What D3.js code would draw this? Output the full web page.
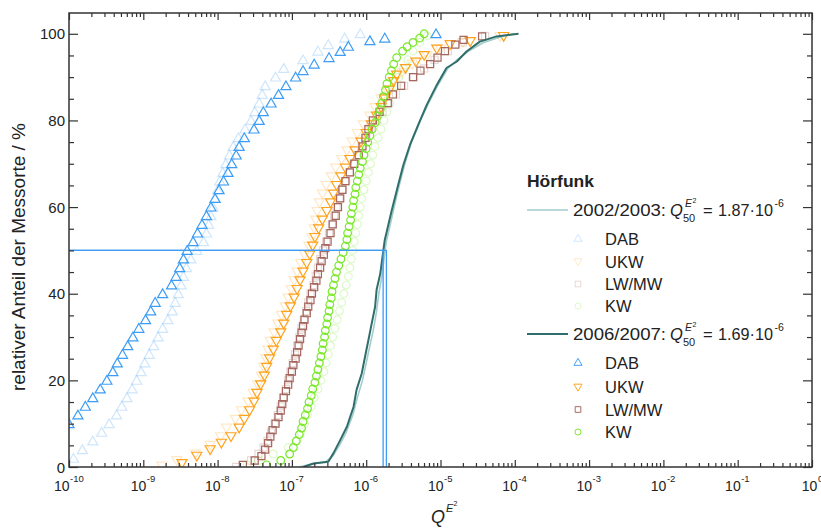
<!DOCTYPE html>
<html><head><meta charset="utf-8">
<script src="https://cdn.jsdelivr.net/npm/d3@7"></script>
<style>
body{margin:0;background:#fff;}
text{font-family:"Liberation Sans",Arial,Helvetica,sans-serif;fill:#222;}
</style>
</head><body>
<svg id="chart" width="821" height="530"></svg>
<script>
// ---------- data (each point: [percent of sites, log10 Q]) ----------
const categories = ["DAB", "UKW", "LW/MW", "KW"];
const periods = ["2002/2003", "2006/2007"];
const q50 = [1.87e-6, 1.69e-6];
const q50Labels = ["1.87", "1.69"];
const yTickValues = [0, 20, 40, 60, 80, 100];
const xTickExponents = [-10, -9, -8, -7, -6, -5, -4, -3, -2, -1, 0];

const dab0203 = [[2,-9.94],[4,-9.82],[6,-9.68],[8,-9.56],[10,-9.46],[12,-9.36],[14,-9.29],[16,-9.22],[18,-9.15],[20,-9.09],[22,-9.03],[24,-8.98],[26,-8.92],[28,-8.86],[30,-8.80],[32,-8.74],[34,-8.67],[36,-8.61],[38,-8.57],[40,-8.53],[42,-8.49],[44,-8.46],[46,-8.42],[48,-8.36],[50,-8.28],[52,-8.19],[54,-8.15],[56,-8.12],[58,-8.09],[60,-8.06],[62,-8.03],[64,-8.00],[66,-7.97],[68,-7.93],[70,-7.89],[72,-7.84],[74,-7.79],[76,-7.72],[78,-7.63],[80,-7.55],[82,-7.50],[84,-7.44],[86,-7.40],[88,-7.36],[90,-7.22],[92,-7.11],[94,-6.85],[96,-6.65],[97.5,-6.51],[99,-6.29],[100,-6.08]];
const ukw0203 = [[0.2,-8.75],[1.5,-8.55],[3,-8.30],[5,-8.10],[7,-7.96],[9,-7.88],[11,-7.76],[13,-7.68],[15,-7.59],[17,-7.52],[19,-7.46],[21,-7.41],[23,-7.38],[25,-7.35],[27,-7.32],[29,-7.29],[31,-7.24],[33,-7.19],[35,-7.14],[37,-7.09],[39,-7.05],[41,-7.01],[43,-6.97],[45,-6.93],[47,-6.88],[49,-6.83],[51,-6.77],[53,-6.73],[55,-6.70],[57,-6.68],[59,-6.66],[61,-6.63],[63,-6.59],[65,-6.54],[67,-6.47],[69,-6.41],[71,-6.33],[73,-6.26],[75,-6.19],[77,-6.12],[79,-6.04],[81,-5.95],[83,-5.88],[85,-5.80],[87,-5.72],[89,-5.64],[91,-5.52],[93,-5.38],[95,-5.18],[96.5,-5.00],[98,-4.70],[99.4,-4.20]];
const lwmw0203 = [[0,-7.75],[1.5,-7.55],[3,-7.45],[4.5,-7.38],[6,-7.33],[8,-7.28],[10,-7.23],[12,-7.19],[14,-7.15],[16,-7.12],[18,-7.08],[20,-7.05],[22,-7.02],[24,-6.99],[26,-6.96],[28,-6.93],[30,-6.90],[32,-6.87],[34,-6.84],[36,-6.81],[38,-6.78],[40,-6.75],[42,-6.71],[44,-6.68],[46,-6.65],[48,-6.62],[50,-6.58],[52,-6.54],[54,-6.50],[56,-6.46],[58,-6.43],[60,-6.40],[62,-6.36],[64,-6.32],[66,-6.27],[68,-6.22],[70,-6.17],[72,-6.12],[74,-6.06],[76,-6.00],[78,-5.94],[80,-5.86],[82,-5.78],[84,-5.70],[86,-5.60],[88,-5.49],[90,-5.36],[92,-5.22],[94,-5.08],[96,-4.90],[98,-4.70],[99.5,-4.40]];
const kw0203 = [[0.5,-7.60],[1.5,-7.45],[3,-7.25],[4.5,-7.05],[6,-6.95],[8,-6.88],[10,-6.83],[12,-6.79],[14,-6.74],[16,-6.70],[18,-6.65],[20,-6.61],[22,-6.57],[24,-6.54],[26,-6.51],[28,-6.48],[30,-6.45],[32,-6.42],[34,-6.39],[36,-6.36],[38,-6.33],[40,-6.30],[42,-6.27],[44,-6.24],[46,-6.22],[48,-6.20],[50,-6.18],[52,-6.16],[54,-6.14],[56,-6.12],[58,-6.10],[60,-6.08],[62,-6.06],[64,-6.03],[66,-6.00],[68,-5.97],[70,-5.94],[72,-5.91],[74,-5.88],[76,-5.84],[78,-5.80],[80,-5.76],[82,-5.72],[84,-5.68],[86,-5.64],[88,-5.60],[90,-5.56],[92,-5.50],[94,-5.44],[96,-5.37],[98,-5.28],[99.5,-5.18]];

const dab0607 = [[10,-10.0],[12,-9.88],[14,-9.78],[16,-9.68],[18,-9.58],[20,-9.49],[22,-9.41],[24,-9.35],[26,-9.28],[28,-9.21],[30,-9.14],[32,-9.06],[34,-8.97],[36,-8.90],[38,-8.84],[40,-8.74],[42,-8.62],[44,-8.56],[46,-8.51],[48,-8.46],[50,-8.41],[52,-8.33],[54,-8.27],[56,-8.21],[58,-8.15],[60,-8.09],[62,-8.035],[64,-7.98],[66,-7.92],[68,-7.86],[70,-7.81],[72,-7.75],[74,-7.71],[76,-7.64],[78,-7.51],[80,-7.44],[82,-7.385],[84,-7.28],[86,-7.18],[88,-7.08],[90,-6.95],[91.5,-6.85],[93,-6.70],[94.5,-6.50],[95.9,-6.35],[97.1,-6.24],[98.4,-5.95],[99,-5.75],[100,-5.06]];
const ukw0607 = [[0.8,-8.48],[2.5,-8.28],[4,-8.10],[5.5,-7.95],[7,-7.82],[9,-7.71],[11,-7.64],[13,-7.57],[15,-7.51],[17,-7.47],[19,-7.42],[21,-7.37],[23,-7.34],[25,-7.30],[27,-7.25],[29,-7.21],[31,-7.15],[33,-7.11],[35,-7.07],[37,-7.02],[39,-6.97],[41,-6.93],[43,-6.89],[45,-6.85],[47,-6.80],[49,-6.76],[51,-6.72],[53,-6.69],[55,-6.64],[57,-6.59],[59,-6.53],[61,-6.48],[63,-6.44],[65,-6.40],[67,-6.34],[69,-6.28],[71,-6.22],[73,-6.15],[75,-6.07],[77,-6.00],[79,-5.93],[81,-5.86],[83,-5.80],[85,-5.75],[87,-5.69],[89,-5.63],[90.5,-5.59],[92,-5.47],[93.5,-5.33],[95,-5.22],[96.5,-5.05],[97.5,-4.87],[98.2,-4.60],[99.4,-4.15]];
const lwmw0607 = [[0.5,-7.66],[1.5,-7.50],[2.5,-7.41],[4,-7.36],[5.5,-7.32],[7,-7.29],[8.5,-7.26],[10,-7.22],[11.5,-7.18],[13,-7.15],[14.5,-7.13],[16,-7.11],[17.5,-7.08],[19,-7.05],[20.5,-7.03],[22,-7.00],[23.5,-6.98],[25,-6.95],[26.5,-6.93],[28,-6.91],[29.5,-6.89],[31,-6.87],[32.5,-6.85],[34,-6.83],[35.5,-6.80],[37,-6.78],[38.5,-6.75],[40,-6.73],[41.5,-6.70],[43,-6.67],[44.5,-6.65],[46,-6.62],[47.5,-6.60],[49,-6.57],[50.5,-6.55],[52,-6.52],[54,-6.48],[56,-6.45],[58,-6.41],[60,-6.38],[62,-6.35],[64,-6.32],[66,-6.28],[68,-6.22],[70,-6.16],[72,-6.10],[74,-6.05],[76,-6.01],[78,-5.97],[80,-5.91],[82,-5.82],[84,-5.71],[86,-5.64],[88,-5.53],[90,-5.37],[91.5,-5.27],[93,-5.14],[94.5,-5.04],[96,-4.94],[97.5,-4.80],[98.6,-4.69],[99.4,-4.44]];
const kw0607 = [[0.5,-7.34],[1.5,-7.15],[3,-7.03],[4.5,-6.98],[6,-6.94],[7.5,-6.90],[9,-6.87],[10.5,-6.85],[12,-6.82],[13.5,-6.79],[15,-6.77],[16.5,-6.74],[18,-6.72],[19.5,-6.69],[21,-6.67],[22.5,-6.65],[24,-6.63],[25.5,-6.61],[27,-6.59],[28.5,-6.58],[30,-6.56],[31.5,-6.55],[33,-6.53],[34.5,-6.52],[36,-6.50],[37.5,-6.49],[39,-6.47],[40.5,-6.46],[42,-6.44],[43.5,-6.42],[45,-6.40],[46.5,-6.37],[48,-6.34],[49.5,-6.31],[51,-6.28],[52.5,-6.26],[54,-6.25],[55.5,-6.23],[57,-6.21],[58.5,-6.20],[60,-6.18],[61.5,-6.17],[63,-6.15],[64.5,-6.14],[66,-6.12],[67.5,-6.10],[69,-6.08],[70.5,-6.05],[72,-6.03],[73.5,-6.00],[75,-5.98],[76.5,-5.95],[78,-5.92],[79.5,-5.88],[81,-5.85],[82.5,-5.81],[84,-5.79],[85.5,-5.77],[87,-5.74],[88.5,-5.72],[90,-5.69],[91.5,-5.66],[93,-5.63],[94.5,-5.59],[96,-5.51],[97,-5.45],[98,-5.37],[99,-5.28],[100,-5.22]];

const total0203 = [[0,-6.90],[0.6,-6.75],[1.2,-6.55],[2.5,-6.45],[5,-6.36],[8,-6.27],[12,-6.18],[16,-6.12],[20,-6.05],[24,-6.00],[28,-5.95],[32,-5.90],[36,-5.86],[40,-5.83],[44,-5.79],[48,-5.76],[52,-5.73],[58,-5.65],[64,-5.57],[70,-5.48],[75,-5.39],[80,-5.27],[84,-5.16],[88,-5.04],[92,-4.90],[94,-4.78],[96,-4.62],[98,-4.42],[99.5,-4.15],[100,-4.00]];
const total0607 = [[0,-6.845],[0.8,-6.71],[1.2,-6.51],[3.2,-6.44],[6.2,-6.35],[9.3,-6.26],[13.9,-6.17],[17.8,-6.13],[21.6,-6.06],[25.5,-6.015],[29.3,-5.97],[33.2,-5.925],[37,-5.88],[40.9,-5.86],[44.7,-5.81],[48.6,-5.78],[52.4,-5.75],[59,-5.66],[65.1,-5.57],[69.7,-5.50],[74.4,-5.41],[79,-5.30],[83.6,-5.185],[88.2,-5.05],[92.1,-4.92],[93.6,-4.78],[95.9,-4.65],[98.2,-4.47],[99.4,-4.245],[100,-3.95]];

const markerSeries = [[dab0203, ukw0203, lwmw0203, kw0203], [dab0607, ukw0607, lwmw0607, kw0607]];
const totalSeries = [total0203, total0607];

// ---------- styles ----------
const catColors = ["#3d9df5", "#ffa21c", "#a5665e", "#7ae82a"];
const periodOpacity = [0.25, 1];
const lineColors = ["#a3cccc", "#2f6e6b"];
const lineWidths = [1.6, 2];
const medianColor = "#3d9df5";

const svg = d3.select("#chart");
const L = 69, R = 812, T = 13, B = 467;

const x = d3.scaleLog().domain([1e-10, 1]).range([L, R]);
const y = d3.scaleLinear().domain([0, 104.8]).range([B, T]);

// symbol generators
const symTri = d3.symbol().type(d3.symbolTriangle).size(44)();
const symSq = d3.symbol().type(d3.symbolSquare).size(50)();
const symCirc = d3.symbol().type(d3.symbolCircle).size(46)();
const symbolFor = [
  {d: symTri, rot: 0, dy: 1},
  {d: symTri, rot: 180, dy: -1},
  {d: symSq, rot: 0, dy: 0},
  {d: symCirc, rot: 0, dy: 0}
];

svg.append("defs").append("clipPath").attr("id", "plotclip")
  .append("rect").attr("x", L).attr("y", T).attr("width", R - L).attr("height", B - T);

const plot = svg.append("g").attr("clip-path", "url(#plotclip)");

// markers: 2002/2003 faded first, then 2006/2007
markerSeries.forEach((group, pi) => {
  group.forEach((data, ci) => {
    const s = symbolFor[ci];
    plot.append("g")
      .attr("stroke", catColors[ci])
      .attr("stroke-opacity", periodOpacity[pi])
      .attr("stroke-width", 1.2)
      .attr("fill", "none")
      .selectAll("path").data(data).join("path")
      .attr("d", s.d)
      .attr("transform", d => `translate(${x(Math.pow(10, d[1]))},${y(d[0]) + s.dy}) rotate(${s.rot})`);
  });
});

// total lines
const line = d3.line().x(d => x(Math.pow(10, d[1]))).y(d => y(d[0]));
totalSeries.forEach((data, pi) => {
  plot.append("path").datum(data)
    .attr("d", line)
    .attr("fill", "none")
    .attr("stroke", lineColors[pi])
    .attr("stroke-width", lineWidths[pi])
    .attr("stroke-linejoin", "round");
});

// median guide lines
q50.forEach(q => {
  plot.append("path")
    .attr("d", `M${x(1e-10)},${y(50)}H${x(q)}V${y(0)}`)
    .attr("fill", "none")
    .attr("stroke", medianColor)
    .attr("stroke-width", 1.3);
});

// ---------- axes ----------
const majorX = xTickExponents.map(e => Math.pow(10, e));
const minorX = [];
xTickExponents.slice(0, -1).forEach(e => { for (let m = 2; m <= 9; m++) minorX.push(m * Math.pow(10, e)); });
const majorY = yTickValues;
const minorY = d3.range(5, 100, 5).filter(v => v % 20 !== 0);

function styleAxis(g) {
  g.select(".domain").remove();
  g.selectAll("line").attr("stroke", "#333").attr("stroke-width", 1.2);
  g.selectAll("text").remove();
}
svg.append("g").attr("transform", `translate(0,${B})`).call(d3.axisBottom(x).tickValues(majorX).tickSize(-7).tickFormat("")).call(styleAxis);
svg.append("g").attr("transform", `translate(0,${B})`).call(d3.axisBottom(x).tickValues(minorX).tickSize(-4).tickFormat("")).call(styleAxis);
svg.append("g").attr("transform", `translate(0,${T})`).call(d3.axisTop(x).tickValues(majorX).tickSize(-7).tickFormat("")).call(styleAxis);
svg.append("g").attr("transform", `translate(0,${T})`).call(d3.axisTop(x).tickValues(minorX).tickSize(-4).tickFormat("")).call(styleAxis);
svg.append("g").attr("transform", `translate(${L},0)`).call(d3.axisLeft(y).tickValues(majorY).tickSize(-9).tickFormat("")).call(styleAxis);
svg.append("g").attr("transform", `translate(${L},0)`).call(d3.axisLeft(y).tickValues(minorY).tickSize(-5).tickFormat("")).call(styleAxis);
svg.append("g").attr("transform", `translate(${R},0)`).call(d3.axisRight(y).tickValues(majorY).tickSize(-9).tickFormat("")).call(styleAxis);
svg.append("g").attr("transform", `translate(${R},0)`).call(d3.axisRight(y).tickValues(minorY).tickSize(-5).tickFormat("")).call(styleAxis);

svg.append("rect").attr("x", L).attr("y", T).attr("width", R - L).attr("height", B - T)
  .attr("fill", "none").attr("stroke", "#333").attr("stroke-width", 1.5);

// y tick labels
svg.append("g").selectAll("text").data(yTickValues).join("text")
  .attr("x", L - 4).attr("y", d => y(d) + 5.5)
  .attr("text-anchor", "end").attr("font-size", 15)
  .text(d => d);

// x tick labels: 10 with superscript exponent
const xl = svg.append("g");
xTickExponents.forEach(e => {
  const cx = x(Math.pow(10, e));
  const expStr = String(e);
  const expW = expStr.length * 4.8;
  const baseW = 15.6;
  const start = cx - (baseW + expW) / 2;
  xl.append("text").attr("x", start).attr("y", 491).attr("font-size", 14).text("10");
  xl.append("text").attr("x", start + baseW + 0.5).attr("y", 482).attr("font-size", 9.5).text(expStr);
});

// axis titles
svg.append("text").attr("x", 431).attr("y", 523).attr("font-size", 18).attr("font-style", "italic").text("Q");
svg.append("text").attr("x", 446).attr("y", 512).attr("font-size", 11).attr("font-style", "italic").text("E");
svg.append("text").attr("x", 453.5).attr("y", 506).attr("font-size", 7).text("2");

svg.append("text")
  .attr("transform", "translate(25,257) rotate(-90)")
  .attr("text-anchor", "middle")
  .attr("font-size", 18)
  .attr("textLength", 268).attr("lengthAdjust", "spacingAndGlyphs")
  .text("relativer Anteil der Messorte / %");

// ---------- legend ----------
const leg = svg.append("g");
leg.append("text").attr("x", 527).attr("y", 187).attr("font-size", 16).attr("font-weight", "bold")
  .attr("textLength", 67).attr("lengthAdjust", "spacingAndGlyphs").text("Hörfunk");

const legLineY = [210, 334];
const legItemY = [[238.5, 261.5, 284, 306], [362.5, 387, 409.5, 432]];
periods.forEach((p, pi) => {
  const ly = legLineY[pi];
  leg.append("line").attr("x1", 527).attr("x2", 568).attr("y1", ly).attr("y2", ly)
    .attr("stroke", lineColors[pi]).attr("stroke-width", lineWidths[pi]);
  const by = ly + 6;
  leg.append("text").attr("x", 573).attr("y", by).attr("font-size", 16.5)
    .attr("textLength", 93).attr("lengthAdjust", "spacingAndGlyphs").text(p + ":");
  leg.append("text").attr("x", 670).attr("y", by).attr("font-size", 16.5).attr("font-style", "italic").text("Q");
  leg.append("text").attr("x", 683).attr("y", by + 6).attr("font-size", 11).text("50");
  leg.append("text").attr("x", 685).attr("y", by - 9).attr("font-size", 10.5).attr("font-style", "italic").text("E");
  leg.append("text").attr("x", 692.5).attr("y", by - 13.5).attr("font-size", 7).text("2");
  leg.append("text").attr("x", 703).attr("y", by).attr("font-size", 16.5).text("=");
  leg.append("text").attr("x", 718).attr("y", by).attr("font-size", 16.5)
    .attr("textLength", 55).attr("lengthAdjust", "spacingAndGlyphs").text(q50Labels[pi] + "\u00B710");
  leg.append("text").attr("x", 774.5).attr("y", by - 9).attr("font-size", 10.5).text("-6");

  categories.forEach((c, ci) => {
    const iy = legItemY[pi][ci];
    const s = symbolFor[ci];
    leg.append("path").attr("d", s.d)
      .attr("transform", `translate(578,${iy + s.dy * 0.5}) rotate(${s.rot}) scale(0.8)`)
      .attr("fill", "none").attr("stroke", catColors[ci])
      .attr("stroke-opacity", periodOpacity[pi]).attr("stroke-width", 1.2);
    leg.append("text").attr("x", 605).attr("y", iy + 6).attr("font-size", 16.5).text(c);
  });
});
</script>
</body></html>
